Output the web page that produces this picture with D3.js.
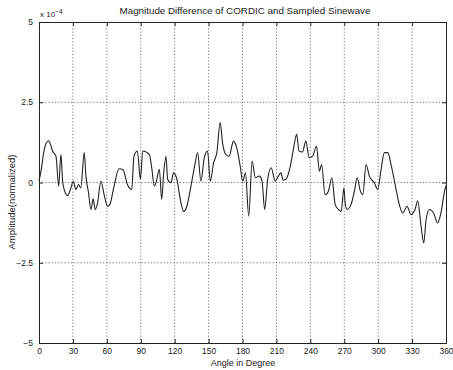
<!DOCTYPE html>
<html>
<head>
<meta charset="utf-8">
<script src="https://cdn.jsdelivr.net/npm/d3@7"></script>
<style>
  body { margin: 0; background: #fff; }
  svg { display: block; font-family: "Liberation Sans", Arial, sans-serif; }
</style>
</head>
<body>
<div id="chart"></div>
<script>
// angle in degrees, amplitude in units of 1e-4
const angles = [0, 2, 4, 6, 8.5, 10.5, 12, 15, 17.4, 19.4, 20.9, 22.3, 25.3, 28.2, 30.3, 32.6, 35, 37, 40, 41.5,
  43.8, 45.9, 47.9, 49.7, 51.8, 54.7, 57.6, 60.6, 62.6, 66.4, 70.8, 74.4, 78.2, 82, 84, 87, 89.7, 91.8, 97.6, 99.7,
  102, 103.5, 106.5, 108.5, 110.3, 112.3, 113.8, 116.7, 119, 122, 125, 128, 130.8, 134.4, 137.9, 140.3, 143.2, 146.2, 149.1, 151.5,
  154.4, 157.3, 160.3, 162.3, 165.3, 168.2, 172, 175.6, 178, 180.2, 182.6, 185.5, 188.5, 191.4, 195, 197.3, 199.6, 202.3, 205.3, 209,
  211, 214, 216, 218.5, 222, 225, 227.9, 230, 233, 236, 239, 242, 245.5, 248, 250, 253, 256, 259, 262, 265,
  267.3, 269.7, 270.8, 272.6, 276, 279, 281.4, 284.3, 286.4, 289.3, 292.2, 296.6, 299.7, 302.6, 305.5, 308.5, 311.4, 315, 318.7, 321.7,
  325.6, 329, 332.6, 335, 338, 340.3, 342.4, 345.3, 349, 352.6, 355.5, 359, 360];
const amplitudes = [0.05, 0.4, 0.9, 1.2, 1.3, 1.15, 0.98, 0.82, -0.11, 0.87, 0.04, -0.22, -0.41, -0.17, 0.04, -0.22, -0.06, -0.17, 0.93, 0.2,
  -0.32, -0.84, -0.51, -0.84, -0.64, 0.04, -0.38, -0.74, -0.69, -0.11, 0.43, 0.39, -0.06, -0.22, 0.82, 0.98, 0.1, 0.98, 0.87, 0.46,
  -0.11, -0.01, 0.41, -0.53, 0.3, 0.82, 0.1, -0.01, 0.3, 0.1, -0.53, -0.9, -0.74, -0.11, 0.56, 0.93, 0.04, 0.77, 0.98, 0.04,
  0.61, 0.93, 1.87, 1.24, 0.87, 0.82, 1.29, 0.98, 0.5, 0.04, 0.3, -1.05, 0.67, 0.15, 0.2, 0.04, -0.84, 0.1, 0.46, 0.04,
  0.15, 0.3, 0.07, 0.1, 0.46, 1.03, 1.5, 0.98, 0.95, 1.29, 0.77, 0.82, 1.13, 0.35, 0.56, -0.38, -0.27, 0.15, -0.69, -0.84,
  -0.9, -0.17, -0.64, -0.84, -0.69, -0.27, 0.15, -0.27, -0.38, 0.56, 0.2, -0.01, -0.22, 0.41, 0.93, 0.93, 0.56, -0.06, -0.69, -0.95,
  -0.74, -1.0, -0.84, -0.58, -1.37, -1.88, -1.16, -0.84, -0.95, -1.26, -0.95, -0.22, -0.1];
const xTicks = [0, 30, 60, 90, 120, 150, 180, 210, 240, 270, 300, 330, 360];
const yTicks = [-5, -2.5, 0, 2.5, 5];
const yTickLabels = ["\u22125", "\u22122.5", "0", "2.5", "5"];

const width = 453, height = 370;
const margin = { left: 39, right: 7, top: 22, bottom: 27 };

const svg = d3.select("#chart").append("svg")
  .attr("width", width)
  .attr("height", height);

const x = d3.scaleLinear().domain([0, 360]).range([margin.left, width - margin.right]);
const y = d3.scaleLinear().domain([-5, 5]).range([height - margin.bottom, margin.top]);

const ink = "#222";

// dotted grid
svg.append("g").selectAll("line")
  .data(xTicks.slice(1, -1))
  .join("line")
  .attr("x1", d => x(d)).attr("x2", d => x(d))
  .attr("y1", y(5)).attr("y2", y(-5))
  .attr("stroke", "#555").attr("stroke-width", 0.8)
  .attr("stroke-dasharray", "1.2,2");

svg.append("g").selectAll("line")
  .data(yTicks.slice(1, -1))
  .join("line")
  .attr("x1", x(0)).attr("x2", x(360))
  .attr("y1", d => y(d)).attr("y2", d => y(d))
  .attr("stroke", "#555").attr("stroke-width", 0.8)
  .attr("stroke-dasharray", "1.2,2");

// axes with inward ticks
const xAxis = d3.axisBottom(x).tickValues(xTicks).tickSize(-4).tickPadding(5);
const xAxisTop = d3.axisTop(x).tickValues(xTicks).tickSize(-4).tickFormat("");
const yAxis = d3.axisLeft(y).tickValues(yTicks).tickSize(-4).tickPadding(6)
  .tickFormat((d, i) => yTickLabels[i]);
const yAxisRight = d3.axisRight(y).tickValues(yTicks).tickSize(-4).tickFormat("");

function styleAxis(g) {
  g.select(".domain").attr("stroke", ink).attr("stroke-width", 1);
  g.selectAll(".tick line").attr("stroke", ink);
  g.selectAll(".tick text").attr("fill", ink).style("font-size", "8.5px");
}

svg.append("g").attr("transform", `translate(0,${y(-5)})`).call(xAxis).call(styleAxis);
svg.append("g").attr("transform", `translate(0,${y(5)})`).call(xAxisTop).call(styleAxis);
svg.append("g").attr("transform", `translate(${x(0)},0)`).call(yAxis).call(styleAxis);
svg.append("g").attr("transform", `translate(${x(360)},0)`).call(yAxisRight).call(styleAxis);

// the curve
const points = angles.map((a, i) => [a, amplitudes[i]]);
const line = d3.line().x(d => x(d[0])).y(d => y(d[1])).curve(d3.curveMonotoneX);

svg.append("path")
  .datum(points)
  .attr("fill", "none")
  .attr("stroke", ink)
  .attr("stroke-width", 1.1)
  .attr("stroke-linejoin", "round")
  .attr("d", line);

// exponent label
const expo = svg.append("text")
  .attr("x", x(0) + 1).attr("y", margin.top - 5)
  .attr("fill", ink).style("font-size", "8px");
expo.append("tspan").text("x 10");
expo.append("tspan").attr("dy", -3).style("font-size", "6.5px").text("\u22124");

// title
svg.append("text")
  .attr("x", 245).attr("y", 14)
  .attr("text-anchor", "middle")
  .attr("fill", ink).style("font-size", "9.8px")
  .text("Magnitude Difference of CORDIC and Sampled Sinewave");

// x label
svg.append("text")
  .attr("x", 243).attr("y", 366)
  .attr("text-anchor", "middle")
  .attr("fill", ink).style("font-size", "9px")
  .text("Angle in Degree");

// y label
svg.append("text")
  .attr("transform", "translate(15,202) rotate(-90)")
  .attr("text-anchor", "middle")
  .attr("fill", ink).style("font-size", "9.5px")
  .text("Amplitude(normalized)");
</script>
</body>
</html>
